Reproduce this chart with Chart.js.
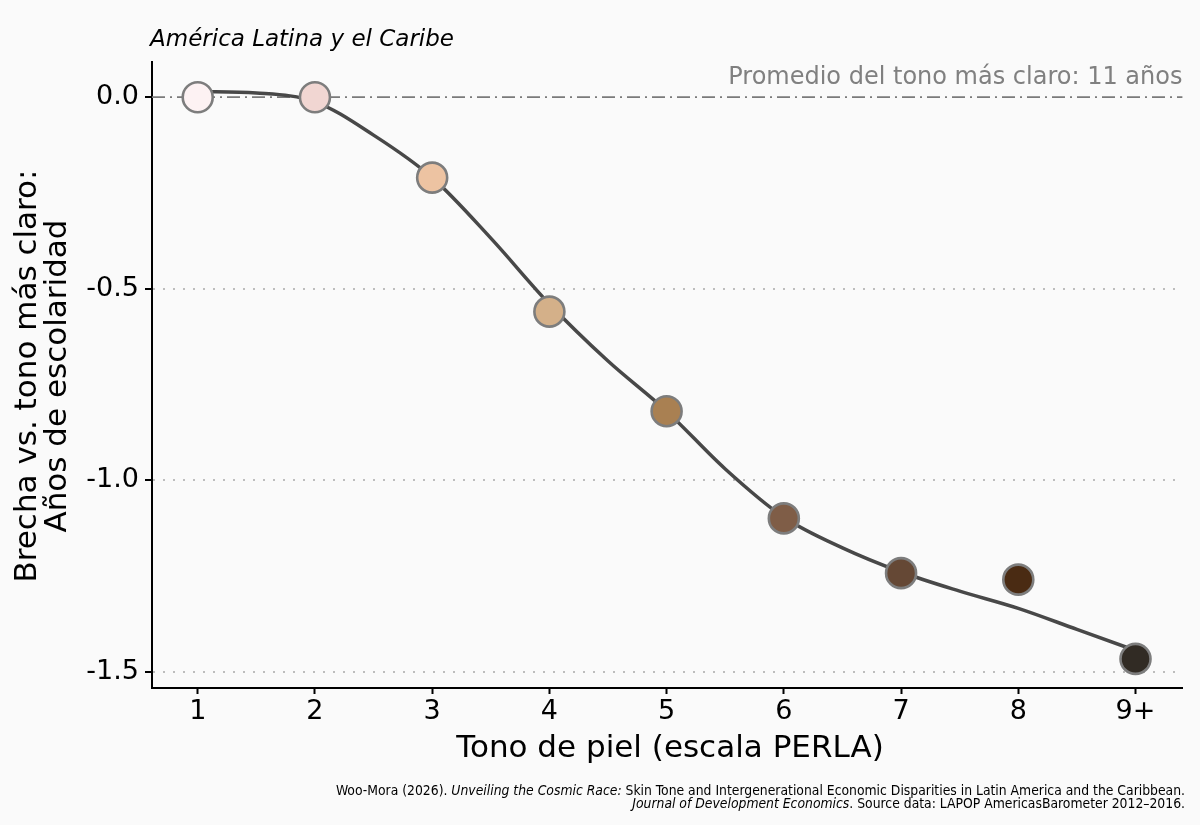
<!DOCTYPE html>
<html>
<head>
<meta charset="utf-8">
<script src="https://cdn.jsdelivr.net/npm/chart.js@4"></script>
<style>
  html, body { margin: 0; padding: 0; background: #fafafa; }
  #wrap { width: 1200px; height: 825px; }
</style>
</head>
<body>
<div id="wrap"><canvas id="chart" width="1200" height="825"></canvas></div>
<script>
// Skin tone categories (PERLA scale) and the gap vs. the lightest tone, in years of schooling
const tones = [1, 2, 3, 4, 5, 6, 7, 8, 9];
const toneLabels = ['1', '2', '3', '4', '5', '6', '7', '8', '9+'];
const gaps = [0.0, 0.0, -0.21, -0.56, -0.82, -1.10, -1.243, -1.26, -1.467];
const toneColors = ['#fdf2f3', '#f1d6d2', '#edc3a2', '#d4b089', '#a98052', '#7f5d47', '#654835', '#4a2b13', '#312b24'];

// Smoothed fit (half steps)
const fitX = [1, 1.5, 2, 2.5, 3, 3.5, 4, 4.5, 5, 5.5, 6, 6.5, 7, 7.5, 8, 8.5, 9];
const fitY = [0.015, 0.011, -0.012, -0.099, -0.21, -0.368, -0.54, -0.689, -0.82, -0.971, -1.097, -1.177, -1.24, -1.29, -1.335, -1.39, -1.445];

const yTicks = [-1.5, -1.0, -0.5, 0.0];
const refValue = 0;
const refLabel = 'Promedio del tono más claro: 11 años';

const FONT = "'DejaVu Sans', 'Liberation Sans', sans-serif";
const CONDENSED = "'DejaVu Sans Condensed', " + FONT;

const background = {
  id: 'background',
  beforeDraw(chart) {
    const { ctx } = chart;
    ctx.save();
    ctx.fillStyle = '#fafafa';
    ctx.fillRect(0, 0, chart.width, chart.height);
    ctx.restore();
  }
};

// dash-dot reference line at zero + its label
const refLine = {
  id: 'refLine',
  beforeDatasetsDraw(chart) {
    const { ctx, chartArea } = chart;
    const y = chart.scales.y.getPixelForValue(refValue);
    ctx.save();
    ctx.strokeStyle = '#7a7a7a';
    ctx.lineWidth = 1.8;
    ctx.setLineDash([13, 5, 2, 5]);
    ctx.beginPath();
    ctx.moveTo(chartArea.left, y);
    ctx.lineTo(chartArea.right, y);
    ctx.stroke();
    ctx.setLineDash([]);
    ctx.fillStyle = '#808080';
    ctx.font = '24px ' + FONT;
    ctx.textAlign = 'right';
    ctx.textBaseline = 'alphabetic';
    ctx.fillText(refLabel, chartArea.right, y - 13);
    ctx.restore();
  }
};

function drawRuns(ctx, runs, right, y) {
  let total = 0;
  runs.forEach(r => { ctx.font = r.font; total += ctx.measureText(r.text).width; });
  let x = right - total;
  runs.forEach(r => {
    ctx.font = r.font;
    ctx.fillText(r.text, x, y);
    x += ctx.measureText(r.text).width;
  });
}

const texts = {
  id: 'texts',
  afterDraw(chart) {
    const { ctx, chartArea } = chart;
    ctx.save();
    ctx.fillStyle = '#000';
    ctx.textBaseline = 'alphabetic';

    // panel title
    ctx.font = 'italic 23px ' + FONT;
    ctx.textAlign = 'left';
    ctx.fillText('América Latina y el Caribe', 150, 46);

    // x axis title
    ctx.font = '31px ' + FONT;
    ctx.textAlign = 'center';
    ctx.fillText('Tono de piel (escala PERLA)', 670, 757);

    // y axis title (two lines)
    ctx.save();
    ctx.translate(0, 376);
    ctx.rotate(-Math.PI / 2);
    ctx.textBaseline = 'middle';
    ctx.fillText('Brecha vs. tono más claro:', 0, 28);
    ctx.fillText('Años de escolaridad', 0, 58);
    ctx.restore();

    // source note
    ctx.textAlign = 'left';
    const n = '13.8px ' + CONDENSED;
    const it = 'italic 13.8px ' + CONDENSED;
    drawRuns(ctx, [
      { text: 'Woo-Mora (2026). ', font: n },
      { text: 'Unveiling the Cosmic Race:', font: it },
      { text: ' Skin Tone and Intergenerational Economic Disparities in Latin America and the Caribbean.', font: n }
    ], 1185, 795);
    drawRuns(ctx, [
      { text: 'Journal of Development Economics', font: it },
      { text: '. Source data: LAPOP AmericasBarometer 2012–2016.', font: n }
    ], 1185, 808);
    ctx.restore();
  }
};

new Chart(document.getElementById('chart'), {
  type: 'scatter',
  data: {
    datasets: [
      {
        label: 'Brecha',
        data: tones.map((t, i) => ({ x: t, y: gaps[i] })),
        pointRadius: 15,
        pointHoverRadius: 15,
        pointBackgroundColor: toneColors,
        pointBorderColor: '#7d7d7d',
        pointBorderWidth: 2.6,
        showLine: false,
        order: 0
      },
      {
        label: 'Ajuste',
        data: fitX.map((x, i) => ({ x, y: fitY[i] })),
        showLine: true,
        borderColor: '#484848',
        borderWidth: 3.5,
        pointRadius: 0,
        cubicInterpolationMode: 'monotone',
        fill: false,
        order: 1
      }
    ]
  },
  options: {
    responsive: false,
    animation: false,
    devicePixelRatio: 1,
    layout: { padding: { top: 62, right: 15, bottom: 0, left: 0 } },
    plugins: {
      legend: { display: false },
      tooltip: { enabled: false }
    },
    scales: {
      x: {
        type: 'linear',
        min: 0.61,
        max: 9.4,
        afterBuildTicks(scale) { scale.ticks = tones.map(v => ({ value: v })); },
        afterFit(scale) { scale.height = 137; },
        ticks: {
          callback: (v) => toneLabels[tones.indexOf(v)],
          font: { family: FONT, size: 27 },
          color: '#000',
          padding: 2,
          maxRotation: 0,
          autoSkip: false
        },
        grid: { drawOnChartArea: false, drawTicks: true, tickLength: 6, tickColor: '#000', tickWidth: 2 },
        border: { display: true, color: '#000', width: 2 }
      },
      y: {
        min: -1.543,
        max: 0.092,
        afterBuildTicks(scale) { scale.ticks = yTicks.map(v => ({ value: v })); },
        afterFit(scale) { scale.width = 152; },
        ticks: {
          callback: (v) => v.toFixed(1),
          font: { family: FONT, size: 27 },
          color: '#000',
          padding: 6
        },
        grid: {
          color: (c) => (c.tick && c.tick.value === refValue ? 'rgba(0,0,0,0)' : '#bdbdbd'),
          lineWidth: 2,
          tickLength: 7,
          tickColor: '#000',
          tickWidth: 2,
          tickBorderDash: []
        },
        border: { display: true, color: '#000', width: 2, dash: [2, 8] }
      }
    }
  },
  plugins: [background, refLine, texts]
});
</script>
</body>
</html>
